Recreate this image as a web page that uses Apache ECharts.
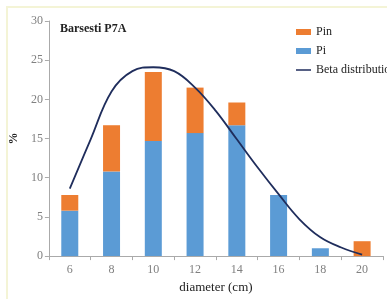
<!DOCTYPE html>
<html>
<head>
<meta charset="utf-8">
<script src="https://cdn.jsdelivr.net/npm/echarts@6/dist/echarts.min.js"></script>
<style>
  html, body { margin: 0; padding: 0; background: #fff; }
  #chart { width: 387px; height: 299px; }
</style>
</head>
<body>
<div id="chart"></div>
<script>
var diameters = ['6', '8', '10', '12', '14', '16', '18', '20'];
var pi = [5.8, 10.8, 14.7, 15.7, 16.7, 7.8, 1.0, 0];
var pin = [2.0, 5.9, 8.8, 5.8, 2.9, 0, 0, 1.9];
// beta curve, one point per cm
var betaX = [6, 7, 8, 9, 10, 11, 12, 13, 14, 15, 16, 17, 18, 19, 20];
var betaY = [8.6, 14.9, 21.0, 23.6, 24.1, 23.6, 21.5, 18.5, 14.9, 11.3, 7.9, 4.7, 2.4, 1.1, 0.2];

var serif = 'Liberation Serif';
var myChart = echarts.init(document.getElementById('chart'));
var betaData = [];
for (var i = 0; i < betaX.length; i++) {
    betaData.push([betaX[i], betaY[i]]);
}
var option = {
    backgroundColor: '#fff',
    animation: false,
    textStyle: { fontFamily: serif },
    graphic: [{
        type: 'rect',
        shape: { x: 7, y: 7, width: 400, height: 300 },
        style: { fill: 'none', stroke: '#f4f4d6', lineWidth: 2 },
        z: -10
    }],
    title: {
        text: 'Barsesti P7A',
        left: 55,
        top: 18,
        textStyle: { fontFamily: serif, fontSize: 12, fontWeight: 'bold', color: '#222' }
    },
    legend: {
        orient: 'vertical',
        left: 291,
        top: 21,
        itemGap: 7,
        itemWidth: 15,
        itemHeight: 6,
        textStyle: { fontFamily: serif, fontSize: 12, color: '#222' },
        data: [
            { name: 'Pin', icon: 'rect' },
            { name: 'Pi', icon: 'rect' },
            { name: 'Beta distribution', icon: 'path://M0,10 L20,10 L20,12 L0,12 Z' }
        ]
    },
    grid: { left: 43, right: 4, top: 21, bottom: 36 },
    xAxis: [{
        type: 'category',
        data: diameters,
        name: 'diameter (cm)',
        nameLocation: 'middle',
        nameGap: 22,
        nameTextStyle: { fontFamily: serif, fontSize: 13, color: '#222' },
        axisLine: { lineStyle: { color: '#aaa' } },
        axisTick: { show: true, length: 4, lineStyle: { color: '#aaa' } },
        axisLabel: { fontFamily: serif, fontSize: 12, color: '#808080', margin: 8 }
    }, {
        type: 'value',
        min: 5,
        max: 21,
        show: false
    }],
    yAxis: {
        type: 'value',
        min: 0,
        max: 30,
        interval: 5,
        name: '%',
        nameLocation: 'middle',
        nameGap: 24,
        nameTextStyle: { fontFamily: serif, fontSize: 12, fontWeight: 'bold', color: '#222' },
        axisLine: { show: true, lineStyle: { color: '#aaa' } },
        axisTick: { show: true, length: 4, lineStyle: { color: '#aaa' } },
        axisLabel: { fontFamily: serif, fontSize: 12, color: '#808080', margin: 6 },
        splitLine: { show: false }
    },
    series: [{
        name: 'Pi',
        type: 'bar',
        stack: 'p',
        barWidth: 17,
        itemStyle: { color: '#5b9bd5' },
        data: pi
    }, {
        name: 'Pin',
        type: 'bar',
        stack: 'p',
        barWidth: 17,
        itemStyle: { color: '#ed7d31' },
        data: pin
    }, {
        name: 'Beta distribution',
        type: 'line',
        xAxisIndex: 1,
        smooth: 0.4,
        showSymbol: false,
        symbol: 'none',
        lineStyle: { color: '#1f2d5c', width: 1.8 },
        itemStyle: { color: '#1f2d5c' },
        data: betaData,
        z: 5
    }]
};
myChart.setOption(option);
</script>
</body>
</html>
